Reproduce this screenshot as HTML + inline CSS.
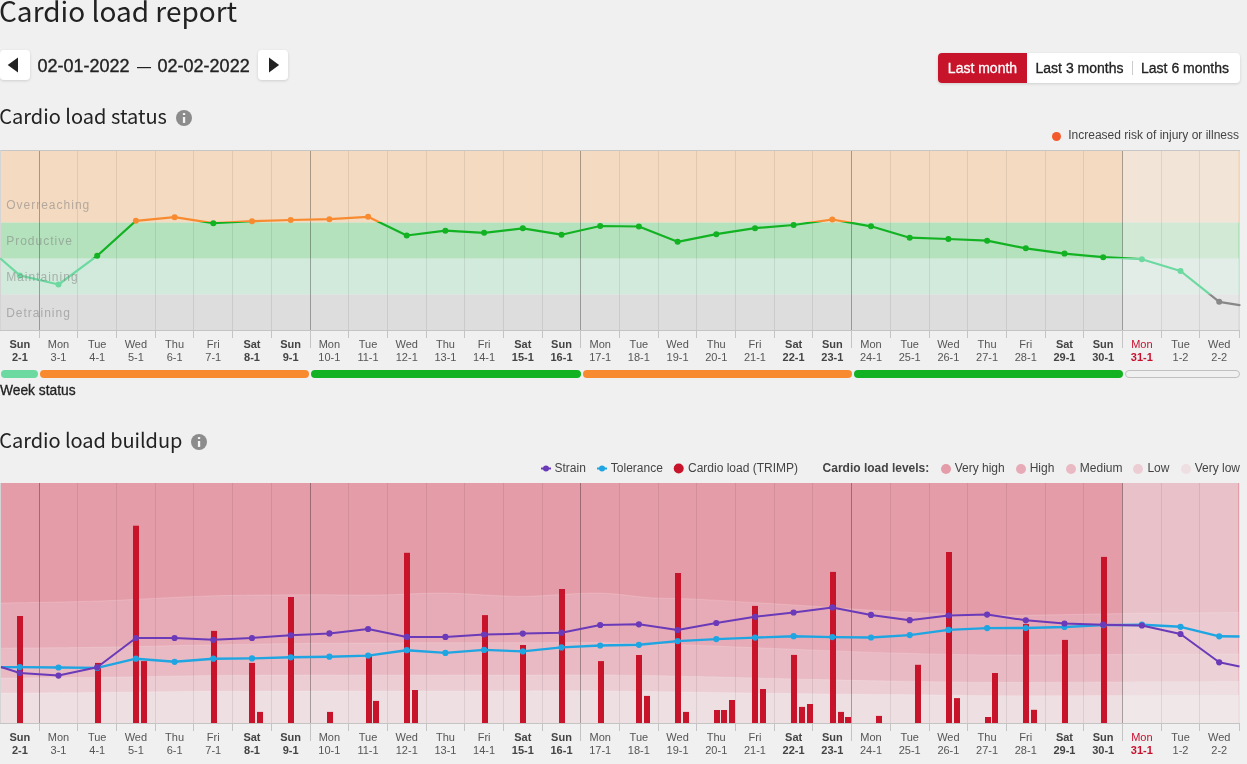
<!DOCTYPE html>
<html lang="en"><head><meta charset="utf-8"><title>Cardio load report</title>
<style>
html,body{margin:0;padding:0}
body{width:1247px;height:764px;overflow:hidden;background:#f0f0f0;position:relative;font-family:"Liberation Sans",sans-serif;color:#222}
.abs{position:absolute}
.h{position:absolute;left:0;white-space:nowrap;font-family:"Noto Sans CJK JP","Noto Sans CJK SC","Liberation Sans",sans-serif;color:#222;font-weight:400}
.h1{font-size:28px;line-height:40px;top:-10px;left:-1px}
.h2{font-size:20px;line-height:30px}
.nav{position:absolute;top:50px;width:30px;height:30px;background:#fff;border-radius:4px;box-shadow:0 1px 3px rgba(0,0,0,.14)}
.date{-webkit-text-stroke:.35px #222;position:absolute;left:37.5px;top:53px;font-size:18px;line-height:26px;white-space:nowrap;color:#222}
.seg{-webkit-text-stroke:.3px;position:absolute;top:53px;height:30px;line-height:30px;font-size:14px;white-space:nowrap;text-align:center;color:#222}
.info{position:absolute;width:16px;height:16px;border-radius:50%;background:#8c8c8c}
.lb{position:absolute;width:40px;text-align:center;font-size:11px;line-height:13px;color:#555}
.we{font-weight:bold;color:#444}
.td{color:#c8102e}
.wk{position:absolute;top:370px;height:8px;border-radius:4px}
.bn{font-family:"Liberation Sans",sans-serif;font-size:12px;letter-spacing:1px;fill:#808080;fill-opacity:.55}
.lg{position:absolute;font-size:12px;line-height:14px;color:#444;white-space:nowrap}
.dot{position:absolute;width:10px;height:10px;border-radius:50%}
</style></head>
<body>
<div class="h h1">Cardio load report</div>

<div class="nav" style="left:0"><svg width="30" height="30"><path d="M18 7.5 L7.7 15 L18 22.4 Z" fill="#222"/></svg></div>
<div class="date">02-01-2022 <span style="display:inline-block;transform:scaleX(.78);-webkit-text-stroke:0">—</span> 02-02-2022</div>
<div class="nav" style="left:258px"><svg width="30" height="30"><path d="M11 7.5 L21.1 15 L11 22.4 Z" fill="#222"/></svg></div>

<div class="abs" style="left:938px;top:53px;width:302px;height:30px;background:#fff;border-radius:4px;box-shadow:0 1px 3px rgba(0,0,0,.14)"></div>
<div class="seg" style="left:938px;width:89px;background:#c8142b;color:#fff;border-radius:4px 0 0 4px">Last month</div>
<div class="seg" style="left:1027px;width:105px">Last 3 months</div>
<div class="abs" style="left:1132px;top:61px;width:1px;height:14px;background:#ccc"></div>
<div class="seg" style="left:1132px;width:106px">Last 6 months</div>

<div class="h h2" style="top:101px;left:-0.7px">Cardio load status</div>
<div class="info" style="left:176px;top:110px"><svg width="16" height="16"><rect x="6.9" y="3.1" width="2.3" height="1.9" fill="#f6f6f6"/><rect x="6.9" y="7" width="2.3" height="5.9" fill="#f6f6f6"/></svg></div>

<div class="dot" style="left:1051.5px;top:131.5px;width:9px;height:9px;background:#f4592b"></div>
<div class="lg" style="right:8px;top:128px">Increased risk of injury or illness</div>

<svg class="abs" style="left:0;top:140px" width="1247" height="215" viewBox="0 0 1247 215">
<defs>
<clipPath id="z0"><rect x="0" y="0" width="1247" height="82.0"/></clipPath>
<clipPath id="z1"><rect x="0" y="82.0" width="1247" height="36.19999999999999"/></clipPath>
<clipPath id="z2"><rect x="0" y="118.19999999999999" width="1247" height="36.0"/></clipPath>
<clipPath id="z3"><rect x="0" y="154.2" width="1247" height="60.80000000000001"/></clipPath>
</defs>
<rect x="1" y="10.5" width="1238" height="72.1" fill="#f4dac0"/>
<rect x="1" y="82.6" width="1238" height="36.099999999999994" fill="#b4e2bc"/>
<rect x="1" y="118.69999999999999" width="1238" height="35.900000000000034" fill="#d2eadc"/>
<rect x="1" y="154.60000000000002" width="1238" height="35.89999999999998" fill="#dddddd"/>
<rect x="1122.5" y="10.5" width="115.5" height="180.0" fill="#f0f0f0" fill-opacity="0.5"/>
<line x1="0" y1="10.5" x2="1240.0" y2="10.5" stroke="#c6c6c6"/>
<line x1="0.5" y1="10" x2="0.5" y2="191" stroke="#d4d4d4"/>
<line x1="39.5" y1="11" x2="39.5" y2="190.5" stroke="#000" stroke-opacity="0.31"/>
<line x1="39.5" y1="190.5" x2="39.5" y2="198.0" stroke="#c4c4c4"/>
<line x1="77.5" y1="11" x2="77.5" y2="190.5" stroke="#000" stroke-opacity="0.08"/>
<line x1="77.5" y1="190.5" x2="77.5" y2="198.0" stroke="#c4c4c4"/>
<line x1="116.5" y1="11" x2="116.5" y2="190.5" stroke="#000" stroke-opacity="0.08"/>
<line x1="116.5" y1="190.5" x2="116.5" y2="198.0" stroke="#c4c4c4"/>
<line x1="155.5" y1="11" x2="155.5" y2="190.5" stroke="#000" stroke-opacity="0.08"/>
<line x1="155.5" y1="190.5" x2="155.5" y2="198.0" stroke="#c4c4c4"/>
<line x1="193.5" y1="11" x2="193.5" y2="190.5" stroke="#000" stroke-opacity="0.08"/>
<line x1="193.5" y1="190.5" x2="193.5" y2="198.0" stroke="#c4c4c4"/>
<line x1="232.5" y1="11" x2="232.5" y2="190.5" stroke="#000" stroke-opacity="0.08"/>
<line x1="232.5" y1="190.5" x2="232.5" y2="198.0" stroke="#c4c4c4"/>
<line x1="271.5" y1="11" x2="271.5" y2="190.5" stroke="#000" stroke-opacity="0.08"/>
<line x1="271.5" y1="190.5" x2="271.5" y2="198.0" stroke="#c4c4c4"/>
<line x1="310.5" y1="11" x2="310.5" y2="190.5" stroke="#000" stroke-opacity="0.31"/>
<line x1="310.5" y1="190.5" x2="310.5" y2="208.0" stroke="#c4c4c4"/>
<line x1="348.5" y1="11" x2="348.5" y2="190.5" stroke="#000" stroke-opacity="0.08"/>
<line x1="348.5" y1="190.5" x2="348.5" y2="198.0" stroke="#c4c4c4"/>
<line x1="387.5" y1="11" x2="387.5" y2="190.5" stroke="#000" stroke-opacity="0.08"/>
<line x1="387.5" y1="190.5" x2="387.5" y2="198.0" stroke="#c4c4c4"/>
<line x1="426.5" y1="11" x2="426.5" y2="190.5" stroke="#000" stroke-opacity="0.08"/>
<line x1="426.5" y1="190.5" x2="426.5" y2="198.0" stroke="#c4c4c4"/>
<line x1="464.5" y1="11" x2="464.5" y2="190.5" stroke="#000" stroke-opacity="0.08"/>
<line x1="464.5" y1="190.5" x2="464.5" y2="198.0" stroke="#c4c4c4"/>
<line x1="503.5" y1="11" x2="503.5" y2="190.5" stroke="#000" stroke-opacity="0.08"/>
<line x1="503.5" y1="190.5" x2="503.5" y2="198.0" stroke="#c4c4c4"/>
<line x1="542.5" y1="11" x2="542.5" y2="190.5" stroke="#000" stroke-opacity="0.08"/>
<line x1="542.5" y1="190.5" x2="542.5" y2="198.0" stroke="#c4c4c4"/>
<line x1="580.5" y1="11" x2="580.5" y2="190.5" stroke="#000" stroke-opacity="0.31"/>
<line x1="580.5" y1="190.5" x2="580.5" y2="208.0" stroke="#c4c4c4"/>
<line x1="619.5" y1="11" x2="619.5" y2="190.5" stroke="#000" stroke-opacity="0.08"/>
<line x1="619.5" y1="190.5" x2="619.5" y2="198.0" stroke="#c4c4c4"/>
<line x1="658.5" y1="11" x2="658.5" y2="190.5" stroke="#000" stroke-opacity="0.08"/>
<line x1="658.5" y1="190.5" x2="658.5" y2="198.0" stroke="#c4c4c4"/>
<line x1="696.5" y1="11" x2="696.5" y2="190.5" stroke="#000" stroke-opacity="0.08"/>
<line x1="696.5" y1="190.5" x2="696.5" y2="198.0" stroke="#c4c4c4"/>
<line x1="735.5" y1="11" x2="735.5" y2="190.5" stroke="#000" stroke-opacity="0.08"/>
<line x1="735.5" y1="190.5" x2="735.5" y2="198.0" stroke="#c4c4c4"/>
<line x1="774.5" y1="11" x2="774.5" y2="190.5" stroke="#000" stroke-opacity="0.08"/>
<line x1="774.5" y1="190.5" x2="774.5" y2="198.0" stroke="#c4c4c4"/>
<line x1="812.5" y1="11" x2="812.5" y2="190.5" stroke="#000" stroke-opacity="0.08"/>
<line x1="812.5" y1="190.5" x2="812.5" y2="198.0" stroke="#c4c4c4"/>
<line x1="851.5" y1="11" x2="851.5" y2="190.5" stroke="#000" stroke-opacity="0.31"/>
<line x1="851.5" y1="190.5" x2="851.5" y2="208.0" stroke="#c4c4c4"/>
<line x1="890.5" y1="11" x2="890.5" y2="190.5" stroke="#000" stroke-opacity="0.08"/>
<line x1="890.5" y1="190.5" x2="890.5" y2="198.0" stroke="#c4c4c4"/>
<line x1="929.5" y1="11" x2="929.5" y2="190.5" stroke="#000" stroke-opacity="0.08"/>
<line x1="929.5" y1="190.5" x2="929.5" y2="198.0" stroke="#c4c4c4"/>
<line x1="967.5" y1="11" x2="967.5" y2="190.5" stroke="#000" stroke-opacity="0.08"/>
<line x1="967.5" y1="190.5" x2="967.5" y2="198.0" stroke="#c4c4c4"/>
<line x1="1006.5" y1="11" x2="1006.5" y2="190.5" stroke="#000" stroke-opacity="0.08"/>
<line x1="1006.5" y1="190.5" x2="1006.5" y2="198.0" stroke="#c4c4c4"/>
<line x1="1045.5" y1="11" x2="1045.5" y2="190.5" stroke="#000" stroke-opacity="0.08"/>
<line x1="1045.5" y1="190.5" x2="1045.5" y2="198.0" stroke="#c4c4c4"/>
<line x1="1083.5" y1="11" x2="1083.5" y2="190.5" stroke="#000" stroke-opacity="0.08"/>
<line x1="1083.5" y1="190.5" x2="1083.5" y2="198.0" stroke="#c4c4c4"/>
<line x1="1122.5" y1="11" x2="1122.5" y2="190.5" stroke="#000" stroke-opacity="0.31"/>
<line x1="1122.5" y1="190.5" x2="1122.5" y2="208.0" stroke="#c4c4c4"/>
<line x1="1161.5" y1="11" x2="1161.5" y2="190.5" stroke="#000" stroke-opacity="0.08"/>
<line x1="1161.5" y1="190.5" x2="1161.5" y2="198.0" stroke="#c4c4c4"/>
<line x1="1199.5" y1="11" x2="1199.5" y2="190.5" stroke="#000" stroke-opacity="0.08"/>
<line x1="1199.5" y1="190.5" x2="1199.5" y2="198.0" stroke="#c4c4c4"/>
<line x1="1239.5" y1="11" x2="1239.5" y2="190.5" stroke="#dadada"/>
<line x1="1239.5" y1="190.5" x2="1239.5" y2="198.0" stroke="#c4c4c4"/>
<line x1="0" y1="190.5" x2="1240.0" y2="190.5" stroke="#c4c4c4"/>
<g clip-path="url(#z0)"><path d="M1.0 119.0 L19.8 135.4 L58.5 144.5 L97.2 115.8 L135.9 80.8 L174.6 77.2 L213.3 83.2 L252.0 81.2 L290.7 80.0 L329.4 79.2 L368.1 76.8 L406.7 95.5 L445.4 90.7 L484.1 92.8 L522.8 88.3 L561.5 94.7 L600.2 86.0 L638.9 86.5 L677.6 101.8 L716.3 94.2 L755.0 88.2 L793.6 85.0 L832.3 79.5 L871.0 86.3 L909.7 97.7 L948.4 99.0 L987.1 100.7 L1025.8 108.3 L1064.5 113.6 L1103.2 117.2 L1141.9 119.2 L1180.5 131.0 L1219.2 161.8 L1239.5 165.1" fill="none" stroke="#f88b30" stroke-width="2.2" stroke-linejoin="round" stroke-linecap="round"/></g>
<g clip-path="url(#z1)"><path d="M1.0 119.0 L19.8 135.4 L58.5 144.5 L97.2 115.8 L135.9 80.8 L174.6 77.2 L213.3 83.2 L252.0 81.2 L290.7 80.0 L329.4 79.2 L368.1 76.8 L406.7 95.5 L445.4 90.7 L484.1 92.8 L522.8 88.3 L561.5 94.7 L600.2 86.0 L638.9 86.5 L677.6 101.8 L716.3 94.2 L755.0 88.2 L793.6 85.0 L832.3 79.5 L871.0 86.3 L909.7 97.7 L948.4 99.0 L987.1 100.7 L1025.8 108.3 L1064.5 113.6 L1103.2 117.2 L1141.9 119.2 L1180.5 131.0 L1219.2 161.8 L1239.5 165.1" fill="none" stroke="#12b223" stroke-width="2.2" stroke-linejoin="round" stroke-linecap="round"/></g>
<g clip-path="url(#z2)"><path d="M1.0 119.0 L19.8 135.4 L58.5 144.5 L97.2 115.8 L135.9 80.8 L174.6 77.2 L213.3 83.2 L252.0 81.2 L290.7 80.0 L329.4 79.2 L368.1 76.8 L406.7 95.5 L445.4 90.7 L484.1 92.8 L522.8 88.3 L561.5 94.7 L600.2 86.0 L638.9 86.5 L677.6 101.8 L716.3 94.2 L755.0 88.2 L793.6 85.0 L832.3 79.5 L871.0 86.3 L909.7 97.7 L948.4 99.0 L987.1 100.7 L1025.8 108.3 L1064.5 113.6 L1103.2 117.2 L1141.9 119.2 L1180.5 131.0 L1219.2 161.8 L1239.5 165.1" fill="none" stroke="#6cd9a0" stroke-width="2.2" stroke-linejoin="round" stroke-linecap="round"/></g>
<g clip-path="url(#z3)"><path d="M1.0 119.0 L19.8 135.4 L58.5 144.5 L97.2 115.8 L135.9 80.8 L174.6 77.2 L213.3 83.2 L252.0 81.2 L290.7 80.0 L329.4 79.2 L368.1 76.8 L406.7 95.5 L445.4 90.7 L484.1 92.8 L522.8 88.3 L561.5 94.7 L600.2 86.0 L638.9 86.5 L677.6 101.8 L716.3 94.2 L755.0 88.2 L793.6 85.0 L832.3 79.5 L871.0 86.3 L909.7 97.7 L948.4 99.0 L987.1 100.7 L1025.8 108.3 L1064.5 113.6 L1103.2 117.2 L1141.9 119.2 L1180.5 131.0 L1219.2 161.8 L1239.5 165.1" fill="none" stroke="#888888" stroke-width="2.2" stroke-linejoin="round" stroke-linecap="round"/></g>
<circle cx="19.8" cy="135.4" r="3" fill="#6cd9a0"/>
<circle cx="58.5" cy="144.5" r="3" fill="#6cd9a0"/>
<circle cx="97.2" cy="115.8" r="3" fill="#12b223"/>
<circle cx="135.9" cy="80.8" r="3" fill="#f88b30"/>
<circle cx="174.6" cy="77.2" r="3" fill="#f88b30"/>
<circle cx="213.3" cy="83.2" r="3" fill="#12b223"/>
<circle cx="252.0" cy="81.2" r="3" fill="#f88b30"/>
<circle cx="290.7" cy="80.0" r="3" fill="#f88b30"/>
<circle cx="329.4" cy="79.2" r="3" fill="#f88b30"/>
<circle cx="368.1" cy="76.8" r="3" fill="#f88b30"/>
<circle cx="406.7" cy="95.5" r="3" fill="#12b223"/>
<circle cx="445.4" cy="90.7" r="3" fill="#12b223"/>
<circle cx="484.1" cy="92.8" r="3" fill="#12b223"/>
<circle cx="522.8" cy="88.3" r="3" fill="#12b223"/>
<circle cx="561.5" cy="94.7" r="3" fill="#12b223"/>
<circle cx="600.2" cy="86.0" r="3" fill="#12b223"/>
<circle cx="638.9" cy="86.5" r="3" fill="#12b223"/>
<circle cx="677.6" cy="101.8" r="3" fill="#12b223"/>
<circle cx="716.3" cy="94.2" r="3" fill="#12b223"/>
<circle cx="755.0" cy="88.2" r="3" fill="#12b223"/>
<circle cx="793.6" cy="85.0" r="3" fill="#12b223"/>
<circle cx="832.3" cy="79.5" r="3" fill="#f88b30"/>
<circle cx="871.0" cy="86.3" r="3" fill="#12b223"/>
<circle cx="909.7" cy="97.7" r="3" fill="#12b223"/>
<circle cx="948.4" cy="99.0" r="3" fill="#12b223"/>
<circle cx="987.1" cy="100.7" r="3" fill="#12b223"/>
<circle cx="1025.8" cy="108.3" r="3" fill="#12b223"/>
<circle cx="1064.5" cy="113.6" r="3" fill="#12b223"/>
<circle cx="1103.2" cy="117.2" r="3" fill="#12b223"/>
<circle cx="1141.9" cy="119.2" r="3" fill="#6cd9a0"/>
<circle cx="1180.5" cy="131.0" r="3" fill="#6cd9a0"/>
<circle cx="1219.2" cy="161.8" r="3" fill="#888888"/>
<text x="6.2" y="68.7" class="bn">Overreaching</text>
<text x="6.2" y="104.7" class="bn">Productive</text>
<text x="6.2" y="140.7" class="bn">Maintaining</text>
<text x="6.2" y="176.7" class="bn">Detraining</text>
</svg>
<div class="lb we" style="left:-0.16px;top:338px">Sun<br>2-1</div>
<div class="lb" style="left:38.53px;top:338px">Mon<br>3-1</div>
<div class="lb" style="left:77.22px;top:338px">Tue<br>4-1</div>
<div class="lb" style="left:115.91px;top:338px">Wed<br>5-1</div>
<div class="lb" style="left:154.60px;top:338px">Thu<br>6-1</div>
<div class="lb" style="left:193.29px;top:338px">Fri<br>7-1</div>
<div class="lb we" style="left:231.98px;top:338px">Sat<br>8-1</div>
<div class="lb we" style="left:270.67px;top:338px">Sun<br>9-1</div>
<div class="lb" style="left:309.37px;top:338px">Mon<br>10-1</div>
<div class="lb" style="left:348.05px;top:338px">Tue<br>11-1</div>
<div class="lb" style="left:386.75px;top:338px">Wed<br>12-1</div>
<div class="lb" style="left:425.43px;top:338px">Thu<br>13-1</div>
<div class="lb" style="left:464.12px;top:338px">Fri<br>14-1</div>
<div class="lb we" style="left:502.81px;top:338px">Sat<br>15-1</div>
<div class="lb we" style="left:541.50px;top:338px">Sun<br>16-1</div>
<div class="lb" style="left:580.19px;top:338px">Mon<br>17-1</div>
<div class="lb" style="left:618.88px;top:338px">Tue<br>18-1</div>
<div class="lb" style="left:657.57px;top:338px">Wed<br>19-1</div>
<div class="lb" style="left:696.26px;top:338px">Thu<br>20-1</div>
<div class="lb" style="left:734.95px;top:338px">Fri<br>21-1</div>
<div class="lb we" style="left:773.64px;top:338px">Sat<br>22-1</div>
<div class="lb we" style="left:812.33px;top:338px">Sun<br>23-1</div>
<div class="lb" style="left:851.02px;top:338px">Mon<br>24-1</div>
<div class="lb" style="left:889.71px;top:338px">Tue<br>25-1</div>
<div class="lb" style="left:928.40px;top:338px">Wed<br>26-1</div>
<div class="lb" style="left:967.09px;top:338px">Thu<br>27-1</div>
<div class="lb" style="left:1005.78px;top:338px">Fri<br>28-1</div>
<div class="lb we" style="left:1044.47px;top:338px">Sat<br>29-1</div>
<div class="lb we" style="left:1083.16px;top:338px">Sun<br>30-1</div>
<div class="lb td" style="left:1121.86px;top:338px">Mon<br><b>31-1</b></div>
<div class="lb" style="left:1160.54px;top:338px">Tue<br>1-2</div>
<div class="lb" style="left:1199.23px;top:338px">Wed<br>2-2</div>
<div class="wk" style="left:1.25px;width:36.76px;background:#6cd9a0"></div>
<div class="wk" style="left:40.01px;width:269.32px;background:#f88b30"></div>
<div class="wk" style="left:311.33px;width:269.32px;background:#12b223"></div>
<div class="wk" style="left:582.65px;width:269.31999999999994px;background:#f88b30"></div>
<div class="wk" style="left:853.9699999999999px;width:269.32000000000005px;background:#12b223"></div>
<div class="wk" style="left:1125.29px;width:112.27999999999997px;height:6px;border:1px solid #c0c0c0;background:#f0f0f0"></div>
<div class="abs" style="left:0;top:383px;font-size:13.8px;line-height:16px;color:#222;white-space:nowrap;-webkit-text-stroke:.3px #222">Week status</div>

<div class="h h2" style="top:425px;left:-0.7px;letter-spacing:-0.07px">Cardio load buildup</div>
<div class="info" style="left:190.5px;top:434px"><svg width="16" height="16"><rect x="6.9" y="3.1" width="2.3" height="1.9" fill="#f6f6f6"/><rect x="6.9" y="7" width="2.3" height="5.9" fill="#f6f6f6"/></svg></div>

<svg class="abs" style="left:538px;top:460px" width="150" height="18"><line x1="3" y1="8.5" x2="13" y2="8.5" stroke="#6a3ab8" stroke-width="2"/><circle cx="8" cy="8.5" r="3" fill="#6a3ab8"/><line x1="59" y1="8.5" x2="69" y2="8.5" stroke="#1fa5e2" stroke-width="2"/><circle cx="64" cy="8.5" r="3" fill="#1fa5e2"/><circle cx="140.7" cy="8.5" r="5" fill="#c8142b"/></svg>
<div class="lg" style="left:554.5px;top:461px">Strain</div>
<div class="lg" style="left:610.8px;top:461px">Tolerance</div>
<div class="lg" style="left:688px;top:461px">Cardio load (TRIMP)</div>
<div class="lg" style="left:822.6px;top:461px;font-weight:bold">Cardio load levels:</div>
<div class="dot" style="left:941px;top:463.5px;background:#e49ca8"></div>
<div class="lg" style="left:954.7px;top:461px">Very high</div>
<div class="dot" style="left:1015.6px;top:463.5px;background:#e7abb7"></div>
<div class="lg" style="left:1029.7px;top:461px">High</div>
<div class="dot" style="left:1065.7px;top:463.5px;background:#e9bac3"></div>
<div class="lg" style="left:1079.8px;top:461px">Medium</div>
<div class="dot" style="left:1133.3px;top:463.5px;background:#eccdd4"></div>
<div class="lg" style="left:1147.4px;top:461px">Low</div>
<div class="dot" style="left:1180.6px;top:463.5px;background:#eedfe2"></div>
<div class="lg" style="left:1194.7px;top:461px">Very low</div>
<svg class="abs" style="left:0;top:473px" width="1247" height="275" viewBox="0 0 1247 275">
<rect x="1" y="10.0" width="1238" height="240.0" fill="#e49ca8"/>
<path d="M1.0 130.0 C17.5 129.7 65.5 129.2 100.0 128.0 C134.5 126.8 174.7 124.0 208.0 123.0 C241.3 122.0 271.3 122.0 300.0 121.8 C328.7 121.6 355.8 122.3 380.0 122.0 C404.2 121.7 421.7 119.9 445.0 120.1 C468.3 120.3 494.7 123.4 520.0 123.4 C545.3 123.4 575.3 119.9 597.0 120.1 C618.7 120.3 632.8 123.7 650.0 124.7 C667.2 125.8 673.7 125.0 700.0 126.4 C726.3 127.8 774.7 130.8 808.0 132.9 C841.3 135.0 868.0 137.3 900.0 138.9 C932.0 140.5 962.8 142.0 1000.0 142.3 C1037.2 142.6 1083.2 141.0 1123.0 140.6 C1162.8 140.1 1219.7 139.8 1239.0 139.6 L1239 250.0 L1 250.0 Z" fill="#e7abb7"/>
<path d="M1.0 130.0 C17.5 129.7 65.5 129.2 100.0 128.0 C134.5 126.8 174.7 124.0 208.0 123.0 C241.3 122.0 271.3 122.0 300.0 121.8 C328.7 121.6 355.8 122.3 380.0 122.0 C404.2 121.7 421.7 119.9 445.0 120.1 C468.3 120.3 494.7 123.4 520.0 123.4 C545.3 123.4 575.3 119.9 597.0 120.1 C618.7 120.3 632.8 123.7 650.0 124.7 C667.2 125.8 673.7 125.0 700.0 126.4 C726.3 127.8 774.7 130.8 808.0 132.9 C841.3 135.0 868.0 137.3 900.0 138.9 C932.0 140.5 962.8 142.0 1000.0 142.3 C1037.2 142.6 1083.2 141.0 1123.0 140.6 C1162.8 140.1 1219.7 139.8 1239.0 139.6" fill="none" stroke="#fff" stroke-opacity="0.16" stroke-width="1"/>
<path d="M1.0 175.2 C17.5 175.1 65.5 174.8 100.0 174.3 C134.5 173.8 174.7 172.6 208.0 172.0 C241.3 171.4 271.3 170.8 300.0 170.5 C328.7 170.2 355.8 170.2 380.0 170.1 C404.2 170.0 421.7 169.8 445.0 169.8 C468.3 169.7 494.7 169.8 520.0 169.8 C545.3 169.8 575.3 169.4 597.0 169.6 C618.7 169.8 632.8 170.5 650.0 171.0 C667.2 171.5 673.7 171.5 700.0 172.5 C726.3 173.5 774.7 175.6 808.0 176.9 C841.3 178.2 868.0 179.4 900.0 180.2 C932.0 181.1 962.8 181.8 1000.0 182.0 C1037.2 182.2 1083.2 181.7 1123.0 181.6 C1162.8 181.5 1219.7 181.3 1239.0 181.2 L1239 250.0 L1 250.0 Z" fill="#e9bac3"/>
<path d="M1.0 175.2 C17.5 175.1 65.5 174.8 100.0 174.3 C134.5 173.8 174.7 172.6 208.0 172.0 C241.3 171.4 271.3 170.8 300.0 170.5 C328.7 170.2 355.8 170.2 380.0 170.1 C404.2 170.0 421.7 169.8 445.0 169.8 C468.3 169.7 494.7 169.8 520.0 169.8 C545.3 169.8 575.3 169.4 597.0 169.6 C618.7 169.8 632.8 170.5 650.0 171.0 C667.2 171.5 673.7 171.5 700.0 172.5 C726.3 173.5 774.7 175.6 808.0 176.9 C841.3 178.2 868.0 179.4 900.0 180.2 C932.0 181.1 962.8 181.8 1000.0 182.0 C1037.2 182.2 1083.2 181.7 1123.0 181.6 C1162.8 181.5 1219.7 181.3 1239.0 181.2" fill="none" stroke="#fff" stroke-opacity="0.16" stroke-width="1"/>
<path d="M1.0 205.1 C17.5 205.0 65.5 204.7 100.0 204.3 C134.5 203.9 174.7 202.9 208.0 202.5 C241.3 202.1 271.3 202.2 300.0 202.1 C328.7 202.0 355.8 202.0 380.0 202.0 C404.2 202.0 421.7 202.0 445.0 202.0 C468.3 202.0 494.7 202.1 520.0 202.1 C545.3 202.1 575.3 201.8 597.0 201.9 C618.7 202.0 632.8 202.2 650.0 202.5 C667.2 202.8 673.7 203.0 700.0 203.6 C726.3 204.2 774.7 205.5 808.0 206.3 C841.3 207.1 868.0 207.7 900.0 208.2 C932.0 208.7 962.8 209.2 1000.0 209.3 C1037.2 209.4 1083.2 209.0 1123.0 208.9 C1162.8 208.8 1219.7 208.6 1239.0 208.5 L1239 250.0 L1 250.0 Z" fill="#eccdd4"/>
<path d="M1.0 205.1 C17.5 205.0 65.5 204.7 100.0 204.3 C134.5 203.9 174.7 202.9 208.0 202.5 C241.3 202.1 271.3 202.2 300.0 202.1 C328.7 202.0 355.8 202.0 380.0 202.0 C404.2 202.0 421.7 202.0 445.0 202.0 C468.3 202.0 494.7 202.1 520.0 202.1 C545.3 202.1 575.3 201.8 597.0 201.9 C618.7 202.0 632.8 202.2 650.0 202.5 C667.2 202.8 673.7 203.0 700.0 203.6 C726.3 204.2 774.7 205.5 808.0 206.3 C841.3 207.1 868.0 207.7 900.0 208.2 C932.0 208.7 962.8 209.2 1000.0 209.3 C1037.2 209.4 1083.2 209.0 1123.0 208.9 C1162.8 208.8 1219.7 208.6 1239.0 208.5" fill="none" stroke="#fff" stroke-opacity="0.16" stroke-width="1"/>
<path d="M1.0 220.1 C17.5 220.0 65.5 219.8 100.0 219.5 C134.5 219.2 174.7 218.5 208.0 218.3 C241.3 218.1 271.3 218.2 300.0 218.1 C328.7 218.0 355.8 217.9 380.0 217.9 C404.2 217.9 421.7 217.9 445.0 217.9 C468.3 217.9 494.7 217.9 520.0 217.9 C545.3 217.9 575.3 217.8 597.0 217.9 C618.7 218.0 632.8 218.3 650.0 218.5 C667.2 218.7 673.7 218.8 700.0 219.2 C726.3 219.6 774.7 220.3 808.0 220.7 C841.3 221.1 868.0 221.3 900.0 221.6 C932.0 221.9 962.8 222.6 1000.0 222.7 C1037.2 222.8 1083.2 222.5 1123.0 222.4 C1162.8 222.3 1219.7 222.2 1239.0 222.2 L1239 250.0 L1 250.0 Z" fill="#eedfe2"/>
<path d="M1.0 220.1 C17.5 220.0 65.5 219.8 100.0 219.5 C134.5 219.2 174.7 218.5 208.0 218.3 C241.3 218.1 271.3 218.2 300.0 218.1 C328.7 218.0 355.8 217.9 380.0 217.9 C404.2 217.9 421.7 217.9 445.0 217.9 C468.3 217.9 494.7 217.9 520.0 217.9 C545.3 217.9 575.3 217.8 597.0 217.9 C618.7 218.0 632.8 218.3 650.0 218.5 C667.2 218.7 673.7 218.8 700.0 219.2 C726.3 219.6 774.7 220.3 808.0 220.7 C841.3 221.1 868.0 221.3 900.0 221.6 C932.0 221.9 962.8 222.6 1000.0 222.7 C1037.2 222.8 1083.2 222.5 1123.0 222.4 C1162.8 222.3 1219.7 222.2 1239.0 222.2" fill="none" stroke="#fff" stroke-opacity="0.16" stroke-width="1"/>
<rect x="1122.5" y="10.0" width="115.5" height="240.0" fill="#f0f0f0" fill-opacity="0.46"/>
<line x1="0.5" y1="10" x2="0.5" y2="250.5" stroke="#d4d4d4"/>
<line x1="39.5" y1="10.0" x2="39.5" y2="250.5" stroke="#000" stroke-opacity="0.31"/>
<line x1="39.5" y1="250.5" x2="39.5" y2="258.0" stroke="#c4c4c4"/>
<line x1="77.5" y1="10.0" x2="77.5" y2="250.5" stroke="#000" stroke-opacity="0.08"/>
<line x1="77.5" y1="250.5" x2="77.5" y2="258.0" stroke="#c4c4c4"/>
<line x1="116.5" y1="10.0" x2="116.5" y2="250.5" stroke="#000" stroke-opacity="0.08"/>
<line x1="116.5" y1="250.5" x2="116.5" y2="258.0" stroke="#c4c4c4"/>
<line x1="155.5" y1="10.0" x2="155.5" y2="250.5" stroke="#000" stroke-opacity="0.08"/>
<line x1="155.5" y1="250.5" x2="155.5" y2="258.0" stroke="#c4c4c4"/>
<line x1="193.5" y1="10.0" x2="193.5" y2="250.5" stroke="#000" stroke-opacity="0.08"/>
<line x1="193.5" y1="250.5" x2="193.5" y2="258.0" stroke="#c4c4c4"/>
<line x1="232.5" y1="10.0" x2="232.5" y2="250.5" stroke="#000" stroke-opacity="0.08"/>
<line x1="232.5" y1="250.5" x2="232.5" y2="258.0" stroke="#c4c4c4"/>
<line x1="271.5" y1="10.0" x2="271.5" y2="250.5" stroke="#000" stroke-opacity="0.08"/>
<line x1="271.5" y1="250.5" x2="271.5" y2="258.0" stroke="#c4c4c4"/>
<line x1="310.5" y1="10.0" x2="310.5" y2="250.5" stroke="#000" stroke-opacity="0.31"/>
<line x1="310.5" y1="250.5" x2="310.5" y2="268.0" stroke="#c4c4c4"/>
<line x1="348.5" y1="10.0" x2="348.5" y2="250.5" stroke="#000" stroke-opacity="0.08"/>
<line x1="348.5" y1="250.5" x2="348.5" y2="258.0" stroke="#c4c4c4"/>
<line x1="387.5" y1="10.0" x2="387.5" y2="250.5" stroke="#000" stroke-opacity="0.08"/>
<line x1="387.5" y1="250.5" x2="387.5" y2="258.0" stroke="#c4c4c4"/>
<line x1="426.5" y1="10.0" x2="426.5" y2="250.5" stroke="#000" stroke-opacity="0.08"/>
<line x1="426.5" y1="250.5" x2="426.5" y2="258.0" stroke="#c4c4c4"/>
<line x1="464.5" y1="10.0" x2="464.5" y2="250.5" stroke="#000" stroke-opacity="0.08"/>
<line x1="464.5" y1="250.5" x2="464.5" y2="258.0" stroke="#c4c4c4"/>
<line x1="503.5" y1="10.0" x2="503.5" y2="250.5" stroke="#000" stroke-opacity="0.08"/>
<line x1="503.5" y1="250.5" x2="503.5" y2="258.0" stroke="#c4c4c4"/>
<line x1="542.5" y1="10.0" x2="542.5" y2="250.5" stroke="#000" stroke-opacity="0.08"/>
<line x1="542.5" y1="250.5" x2="542.5" y2="258.0" stroke="#c4c4c4"/>
<line x1="580.5" y1="10.0" x2="580.5" y2="250.5" stroke="#000" stroke-opacity="0.31"/>
<line x1="580.5" y1="250.5" x2="580.5" y2="268.0" stroke="#c4c4c4"/>
<line x1="619.5" y1="10.0" x2="619.5" y2="250.5" stroke="#000" stroke-opacity="0.08"/>
<line x1="619.5" y1="250.5" x2="619.5" y2="258.0" stroke="#c4c4c4"/>
<line x1="658.5" y1="10.0" x2="658.5" y2="250.5" stroke="#000" stroke-opacity="0.08"/>
<line x1="658.5" y1="250.5" x2="658.5" y2="258.0" stroke="#c4c4c4"/>
<line x1="696.5" y1="10.0" x2="696.5" y2="250.5" stroke="#000" stroke-opacity="0.08"/>
<line x1="696.5" y1="250.5" x2="696.5" y2="258.0" stroke="#c4c4c4"/>
<line x1="735.5" y1="10.0" x2="735.5" y2="250.5" stroke="#000" stroke-opacity="0.08"/>
<line x1="735.5" y1="250.5" x2="735.5" y2="258.0" stroke="#c4c4c4"/>
<line x1="774.5" y1="10.0" x2="774.5" y2="250.5" stroke="#000" stroke-opacity="0.08"/>
<line x1="774.5" y1="250.5" x2="774.5" y2="258.0" stroke="#c4c4c4"/>
<line x1="812.5" y1="10.0" x2="812.5" y2="250.5" stroke="#000" stroke-opacity="0.08"/>
<line x1="812.5" y1="250.5" x2="812.5" y2="258.0" stroke="#c4c4c4"/>
<line x1="851.5" y1="10.0" x2="851.5" y2="250.5" stroke="#000" stroke-opacity="0.31"/>
<line x1="851.5" y1="250.5" x2="851.5" y2="268.0" stroke="#c4c4c4"/>
<line x1="890.5" y1="10.0" x2="890.5" y2="250.5" stroke="#000" stroke-opacity="0.08"/>
<line x1="890.5" y1="250.5" x2="890.5" y2="258.0" stroke="#c4c4c4"/>
<line x1="929.5" y1="10.0" x2="929.5" y2="250.5" stroke="#000" stroke-opacity="0.08"/>
<line x1="929.5" y1="250.5" x2="929.5" y2="258.0" stroke="#c4c4c4"/>
<line x1="967.5" y1="10.0" x2="967.5" y2="250.5" stroke="#000" stroke-opacity="0.08"/>
<line x1="967.5" y1="250.5" x2="967.5" y2="258.0" stroke="#c4c4c4"/>
<line x1="1006.5" y1="10.0" x2="1006.5" y2="250.5" stroke="#000" stroke-opacity="0.08"/>
<line x1="1006.5" y1="250.5" x2="1006.5" y2="258.0" stroke="#c4c4c4"/>
<line x1="1045.5" y1="10.0" x2="1045.5" y2="250.5" stroke="#000" stroke-opacity="0.08"/>
<line x1="1045.5" y1="250.5" x2="1045.5" y2="258.0" stroke="#c4c4c4"/>
<line x1="1083.5" y1="10.0" x2="1083.5" y2="250.5" stroke="#000" stroke-opacity="0.08"/>
<line x1="1083.5" y1="250.5" x2="1083.5" y2="258.0" stroke="#c4c4c4"/>
<line x1="1122.5" y1="10.0" x2="1122.5" y2="250.5" stroke="#000" stroke-opacity="0.31"/>
<line x1="1122.5" y1="250.5" x2="1122.5" y2="268.0" stroke="#c4c4c4"/>
<line x1="1161.5" y1="10.0" x2="1161.5" y2="250.5" stroke="#000" stroke-opacity="0.08"/>
<line x1="1161.5" y1="250.5" x2="1161.5" y2="258.0" stroke="#c4c4c4"/>
<line x1="1199.5" y1="10.0" x2="1199.5" y2="250.5" stroke="#000" stroke-opacity="0.08"/>
<line x1="1199.5" y1="250.5" x2="1199.5" y2="258.0" stroke="#c4c4c4"/>
<line x1="1239.5" y1="10.0" x2="1239.5" y2="250.5" stroke="#e4e4e4"/>
<line x1="1239.5" y1="250.5" x2="1239.5" y2="258.0" stroke="#c4c4c4"/>
<line x1="0" y1="250.5" x2="1240.0" y2="250.5" stroke="#c4c4c4"/>
<rect x="17" y="143.0" width="6" height="107.0" fill="#c8142b"/>
<rect x="95" y="189.9" width="6" height="60.1" fill="#c8142b"/>
<rect x="133" y="52.7" width="6" height="197.3" fill="#c8142b"/>
<rect x="141" y="188.1" width="6" height="61.9" fill="#c8142b"/>
<rect x="211" y="157.9" width="6" height="92.1" fill="#c8142b"/>
<rect x="249" y="189.9" width="6" height="60.1" fill="#c8142b"/>
<rect x="257" y="238.9" width="6" height="11.1" fill="#c8142b"/>
<rect x="288" y="124.0" width="6" height="126.0" fill="#c8142b"/>
<rect x="327" y="238.9" width="6" height="11.1" fill="#c8142b"/>
<rect x="366" y="183.3" width="6" height="66.7" fill="#c8142b"/>
<rect x="373" y="227.9" width="6" height="22.1" fill="#c8142b"/>
<rect x="404" y="79.8" width="6" height="170.2" fill="#c8142b"/>
<rect x="412" y="217.0" width="6" height="33.0" fill="#c8142b"/>
<rect x="482" y="142.1" width="6" height="107.9" fill="#c8142b"/>
<rect x="520" y="172.0" width="6" height="78.0" fill="#c8142b"/>
<rect x="559" y="116.0" width="6" height="134.0" fill="#c8142b"/>
<rect x="598" y="188.1" width="6" height="61.9" fill="#c8142b"/>
<rect x="636" y="182.0" width="6" height="68.0" fill="#c8142b"/>
<rect x="644" y="222.9" width="6" height="27.1" fill="#c8142b"/>
<rect x="675" y="100.0" width="6" height="150.0" fill="#c8142b"/>
<rect x="683" y="238.9" width="6" height="11.1" fill="#c8142b"/>
<rect x="714" y="237.0" width="6" height="13.0" fill="#c8142b"/>
<rect x="721" y="237.0" width="6" height="13.0" fill="#c8142b"/>
<rect x="729" y="227.0" width="6" height="23.0" fill="#c8142b"/>
<rect x="752" y="132.9" width="6" height="117.1" fill="#c8142b"/>
<rect x="760" y="216.0" width="6" height="34.0" fill="#c8142b"/>
<rect x="791" y="181.9" width="6" height="68.1" fill="#c8142b"/>
<rect x="799" y="233.9" width="6" height="16.1" fill="#c8142b"/>
<rect x="807" y="231.0" width="6" height="19.0" fill="#c8142b"/>
<rect x="830" y="98.9" width="6" height="151.1" fill="#c8142b"/>
<rect x="838" y="238.9" width="6" height="11.1" fill="#c8142b"/>
<rect x="845" y="244.0" width="6" height="6.0" fill="#c8142b"/>
<rect x="876" y="242.9" width="6" height="7.1" fill="#c8142b"/>
<rect x="915" y="191.8" width="6" height="58.2" fill="#c8142b"/>
<rect x="946" y="79.0" width="6" height="171.0" fill="#c8142b"/>
<rect x="954" y="225.1" width="6" height="24.9" fill="#c8142b"/>
<rect x="985" y="244.0" width="6" height="6.0" fill="#c8142b"/>
<rect x="992" y="200.0" width="6" height="50.0" fill="#c8142b"/>
<rect x="1023" y="151.1" width="6" height="98.9" fill="#c8142b"/>
<rect x="1031" y="236.8" width="6" height="13.2" fill="#c8142b"/>
<rect x="1062" y="166.9" width="6" height="83.1" fill="#c8142b"/>
<rect x="1101" y="83.9" width="6" height="166.1" fill="#c8142b"/>
<path d="M1.0 194.3 L19.8 194.1 L58.5 194.5 L97.2 194.9 L135.9 185.7 L174.6 188.8 L213.3 185.7 L252.0 185.4 L290.7 184.3 L329.4 183.7 L368.1 182.6 L406.7 177.2 L445.4 179.9 L484.1 176.9 L522.8 178.4 L561.5 174.4 L600.2 172.5 L638.9 171.8 L677.6 168.1 L716.3 166.1 L755.0 164.6 L793.6 163.2 L832.3 164.1 L871.0 164.5 L909.7 162.1 L948.4 156.9 L987.1 155.1 L1025.8 155.0 L1064.5 154.0 L1103.2 152.1 L1141.9 151.7 L1180.5 153.8 L1219.2 163.3 L1239.5 163.5" fill="none" stroke="#1fa5e2" stroke-width="2.4" stroke-linejoin="round"/>
<circle cx="19.8" cy="194.1" r="3.1" fill="#1fa5e2"/>
<circle cx="58.5" cy="194.5" r="3.1" fill="#1fa5e2"/>
<circle cx="97.2" cy="194.9" r="3.1" fill="#1fa5e2"/>
<circle cx="135.9" cy="185.7" r="3.1" fill="#1fa5e2"/>
<circle cx="174.6" cy="188.8" r="3.1" fill="#1fa5e2"/>
<circle cx="213.3" cy="185.7" r="3.1" fill="#1fa5e2"/>
<circle cx="252.0" cy="185.4" r="3.1" fill="#1fa5e2"/>
<circle cx="290.7" cy="184.3" r="3.1" fill="#1fa5e2"/>
<circle cx="329.4" cy="183.7" r="3.1" fill="#1fa5e2"/>
<circle cx="368.1" cy="182.6" r="3.1" fill="#1fa5e2"/>
<circle cx="406.7" cy="177.2" r="3.1" fill="#1fa5e2"/>
<circle cx="445.4" cy="179.9" r="3.1" fill="#1fa5e2"/>
<circle cx="484.1" cy="176.9" r="3.1" fill="#1fa5e2"/>
<circle cx="522.8" cy="178.4" r="3.1" fill="#1fa5e2"/>
<circle cx="561.5" cy="174.4" r="3.1" fill="#1fa5e2"/>
<circle cx="600.2" cy="172.5" r="3.1" fill="#1fa5e2"/>
<circle cx="638.9" cy="171.8" r="3.1" fill="#1fa5e2"/>
<circle cx="677.6" cy="168.1" r="3.1" fill="#1fa5e2"/>
<circle cx="716.3" cy="166.1" r="3.1" fill="#1fa5e2"/>
<circle cx="755.0" cy="164.6" r="3.1" fill="#1fa5e2"/>
<circle cx="793.6" cy="163.2" r="3.1" fill="#1fa5e2"/>
<circle cx="832.3" cy="164.1" r="3.1" fill="#1fa5e2"/>
<circle cx="871.0" cy="164.5" r="3.1" fill="#1fa5e2"/>
<circle cx="909.7" cy="162.1" r="3.1" fill="#1fa5e2"/>
<circle cx="948.4" cy="156.9" r="3.1" fill="#1fa5e2"/>
<circle cx="987.1" cy="155.1" r="3.1" fill="#1fa5e2"/>
<circle cx="1025.8" cy="155.0" r="3.1" fill="#1fa5e2"/>
<circle cx="1064.5" cy="154.0" r="3.1" fill="#1fa5e2"/>
<circle cx="1103.2" cy="152.1" r="3.1" fill="#1fa5e2"/>
<circle cx="1141.9" cy="151.7" r="3.1" fill="#1fa5e2"/>
<circle cx="1180.5" cy="153.8" r="3.1" fill="#1fa5e2"/>
<circle cx="1219.2" cy="163.3" r="3.1" fill="#1fa5e2"/>
<path d="M1.0 194.0 L19.8 200.0 L58.5 202.6 L97.2 194.3 L135.9 165.0 L174.6 165.0 L213.3 166.8 L252.0 165.0 L290.7 162.3 L329.4 160.4 L368.1 156.0 L406.7 163.9 L445.4 163.9 L484.1 161.5 L522.8 160.6 L561.5 159.7 L600.2 152.0 L638.9 151.3 L677.6 157.1 L716.3 150.0 L755.0 143.8 L793.6 139.5 L832.3 134.4 L871.0 141.9 L909.7 147.2 L948.4 142.5 L987.1 141.6 L1025.8 147.3 L1064.5 150.5 L1103.2 151.7 L1141.9 152.5 L1180.5 161.0 L1219.2 189.3 L1239.5 193.6" fill="none" stroke="#6a3ab8" stroke-width="2" stroke-linejoin="round"/>
<circle cx="19.8" cy="200.0" r="3.1" fill="#6a3ab8"/>
<circle cx="58.5" cy="202.6" r="3.1" fill="#6a3ab8"/>
<circle cx="97.2" cy="194.3" r="3.1" fill="#6a3ab8"/>
<circle cx="135.9" cy="165.0" r="3.1" fill="#6a3ab8"/>
<circle cx="174.6" cy="165.0" r="3.1" fill="#6a3ab8"/>
<circle cx="213.3" cy="166.8" r="3.1" fill="#6a3ab8"/>
<circle cx="252.0" cy="165.0" r="3.1" fill="#6a3ab8"/>
<circle cx="290.7" cy="162.3" r="3.1" fill="#6a3ab8"/>
<circle cx="329.4" cy="160.4" r="3.1" fill="#6a3ab8"/>
<circle cx="368.1" cy="156.0" r="3.1" fill="#6a3ab8"/>
<circle cx="406.7" cy="163.9" r="3.1" fill="#6a3ab8"/>
<circle cx="445.4" cy="163.9" r="3.1" fill="#6a3ab8"/>
<circle cx="484.1" cy="161.5" r="3.1" fill="#6a3ab8"/>
<circle cx="522.8" cy="160.6" r="3.1" fill="#6a3ab8"/>
<circle cx="561.5" cy="159.7" r="3.1" fill="#6a3ab8"/>
<circle cx="600.2" cy="152.0" r="3.1" fill="#6a3ab8"/>
<circle cx="638.9" cy="151.3" r="3.1" fill="#6a3ab8"/>
<circle cx="677.6" cy="157.1" r="3.1" fill="#6a3ab8"/>
<circle cx="716.3" cy="150.0" r="3.1" fill="#6a3ab8"/>
<circle cx="755.0" cy="143.8" r="3.1" fill="#6a3ab8"/>
<circle cx="793.6" cy="139.5" r="3.1" fill="#6a3ab8"/>
<circle cx="832.3" cy="134.4" r="3.1" fill="#6a3ab8"/>
<circle cx="871.0" cy="141.9" r="3.1" fill="#6a3ab8"/>
<circle cx="909.7" cy="147.2" r="3.1" fill="#6a3ab8"/>
<circle cx="948.4" cy="142.5" r="3.1" fill="#6a3ab8"/>
<circle cx="987.1" cy="141.6" r="3.1" fill="#6a3ab8"/>
<circle cx="1025.8" cy="147.3" r="3.1" fill="#6a3ab8"/>
<circle cx="1064.5" cy="150.5" r="3.1" fill="#6a3ab8"/>
<circle cx="1103.2" cy="151.7" r="3.1" fill="#6a3ab8"/>
<circle cx="1141.9" cy="152.5" r="3.1" fill="#6a3ab8"/>
<circle cx="1180.5" cy="161.0" r="3.1" fill="#6a3ab8"/>
<circle cx="1219.2" cy="189.3" r="3.1" fill="#6a3ab8"/>
</svg>
<div class="lb we" style="left:-0.16px;top:731px">Sun<br>2-1</div>
<div class="lb" style="left:38.53px;top:731px">Mon<br>3-1</div>
<div class="lb" style="left:77.22px;top:731px">Tue<br>4-1</div>
<div class="lb" style="left:115.91px;top:731px">Wed<br>5-1</div>
<div class="lb" style="left:154.60px;top:731px">Thu<br>6-1</div>
<div class="lb" style="left:193.29px;top:731px">Fri<br>7-1</div>
<div class="lb we" style="left:231.98px;top:731px">Sat<br>8-1</div>
<div class="lb we" style="left:270.67px;top:731px">Sun<br>9-1</div>
<div class="lb" style="left:309.37px;top:731px">Mon<br>10-1</div>
<div class="lb" style="left:348.05px;top:731px">Tue<br>11-1</div>
<div class="lb" style="left:386.75px;top:731px">Wed<br>12-1</div>
<div class="lb" style="left:425.43px;top:731px">Thu<br>13-1</div>
<div class="lb" style="left:464.12px;top:731px">Fri<br>14-1</div>
<div class="lb we" style="left:502.81px;top:731px">Sat<br>15-1</div>
<div class="lb we" style="left:541.50px;top:731px">Sun<br>16-1</div>
<div class="lb" style="left:580.19px;top:731px">Mon<br>17-1</div>
<div class="lb" style="left:618.88px;top:731px">Tue<br>18-1</div>
<div class="lb" style="left:657.57px;top:731px">Wed<br>19-1</div>
<div class="lb" style="left:696.26px;top:731px">Thu<br>20-1</div>
<div class="lb" style="left:734.95px;top:731px">Fri<br>21-1</div>
<div class="lb we" style="left:773.64px;top:731px">Sat<br>22-1</div>
<div class="lb we" style="left:812.33px;top:731px">Sun<br>23-1</div>
<div class="lb" style="left:851.02px;top:731px">Mon<br>24-1</div>
<div class="lb" style="left:889.71px;top:731px">Tue<br>25-1</div>
<div class="lb" style="left:928.40px;top:731px">Wed<br>26-1</div>
<div class="lb" style="left:967.09px;top:731px">Thu<br>27-1</div>
<div class="lb" style="left:1005.78px;top:731px">Fri<br>28-1</div>
<div class="lb we" style="left:1044.47px;top:731px">Sat<br>29-1</div>
<div class="lb we" style="left:1083.16px;top:731px">Sun<br>30-1</div>
<div class="lb td" style="left:1121.86px;top:731px">Mon<br><b>31-1</b></div>
<div class="lb" style="left:1160.54px;top:731px">Tue<br>1-2</div>
<div class="lb" style="left:1199.23px;top:731px">Wed<br>2-2</div>
</body></html>
